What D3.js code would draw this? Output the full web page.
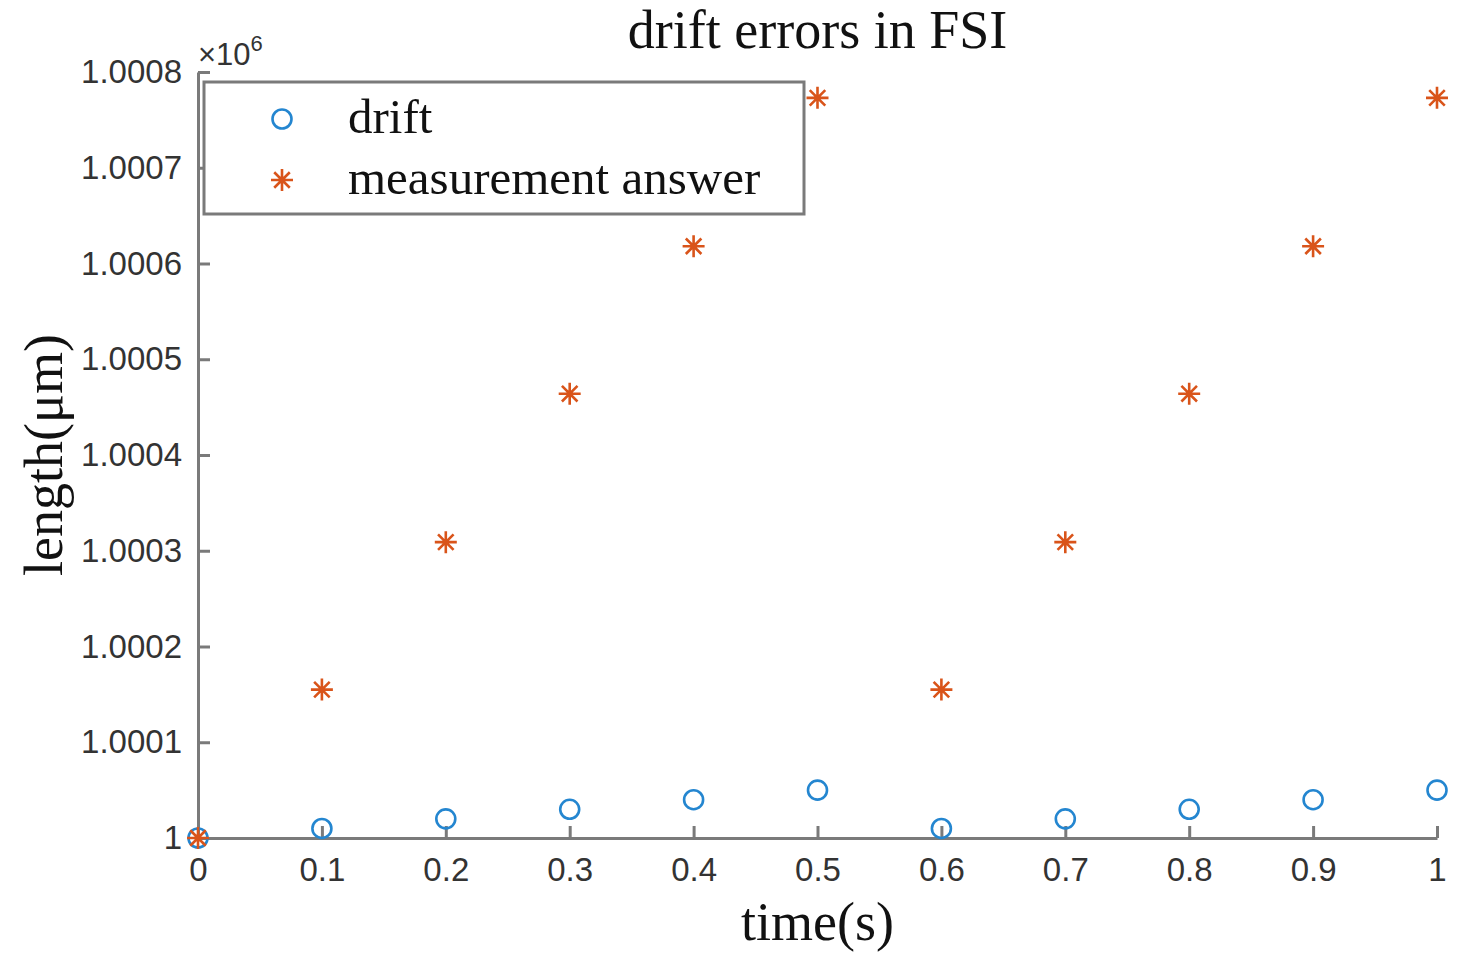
<!DOCTYPE html>
<html>
<head>
<meta charset="utf-8">
<script src="https://cdn.jsdelivr.net/npm/d3@7"></script>
<style>
  html, body { margin: 0; padding: 0; background: #fff; }
  svg { display: block; }
</style>
</head>
<body>
<svg id="chart" width="1461" height="959"></svg>
<script>
// ---- data ----
const times = [0, 0.1, 0.2, 0.3, 0.4, 0.5, 0.6, 0.7, 0.8, 0.9, 1.0];
const drift = [1000000, 1000010, 1000020, 1000030, 1000040, 1000050, 1000010, 1000020, 1000030, 1000040, 1000050];
const measurement = [1000000, 1000155, 1000309, 1000464, 1000618, 1000773, 1000155, 1000309, 1000464, 1000618, 1000773];
const xTickValues = [0, 0.1, 0.2, 0.3, 0.4, 0.5, 0.6, 0.7, 0.8, 0.9, 1];
const xTickLabels = ["0", "0.1", "0.2", "0.3", "0.4", "0.5", "0.6", "0.7", "0.8", "0.9", "1"];
const yTickValues = [1000000, 1000100, 1000200, 1000300, 1000400, 1000500, 1000600, 1000700, 1000800];
const yTickLabels = ["1", "1.0001", "1.0002", "1.0003", "1.0004", "1.0005", "1.0006", "1.0007", "1.0008"];
const seriesNames = ["drift", "measurement answer"];

// ---- layout ----
const svg = d3.select("#chart");
const pL = 198, pR = 1437, pT = 72, pB = 838;
const x = d3.scaleLinear().domain([0, 1]).range([pL, pR]);
const y = d3.scaleLinear().domain([1000000, 1000800]).range([pB, pT]);

const axisColor = "#7a7a7a";
const blue = "#2486d0";
const orange = "#d9541a";
const serif = "'Liberation Serif', 'Times New Roman', serif";
const sans = "'Liberation Sans', Arial, sans-serif";

// y axis
const yAxis = d3.axisLeft(y)
  .tickValues(yTickValues)
  .tickFormat((d, i) => yTickLabels[i])
  .tickSizeInner(-12).tickSizeOuter(0).tickPadding(16);
const gy = svg.append("g").attr("transform", `translate(${pL},0)`).call(yAxis);
gy.select(".domain").attr("stroke", axisColor).attr("stroke-width", 3);
gy.selectAll(".tick line").attr("stroke", axisColor).attr("stroke-width", 3);
gy.selectAll(".tick text").attr("fill", "#333").style("font-family", sans).style("font-size", "33px");

// x axis
const xAxis = d3.axisBottom(x)
  .tickValues(xTickValues)
  .tickFormat((d, i) => xTickLabels[i])
  .tickSizeInner(-12).tickSizeOuter(0).tickPadding(20);
const gx = svg.append("g").attr("transform", `translate(0,${pB})`).call(xAxis);
gx.select(".domain").attr("stroke", axisColor).attr("stroke-width", 3);
gx.selectAll(".tick line").attr("stroke", axisColor).attr("stroke-width", 3);
gx.selectAll(".tick text").attr("fill", "#333").style("font-family", sans).style("font-size", "33px");

// exponent label
const expT = svg.append("text").attr("x", 198).attr("y", 65)
  .style("font-family", sans).style("font-size", "31px").attr("fill", "#333");
expT.append("tspan").text("\u00d710");
expT.append("tspan").attr("dy", -14).style("font-size", "22px").text("6");

// title & labels
svg.append("text").attr("x", (pL + pR) / 2).attr("y", 48).attr("text-anchor", "middle")
  .style("font-family", serif).style("font-size", "54px").attr("fill", "#111").text("drift errors in FSI");
svg.append("text").attr("x", (pL + pR) / 2).attr("y", 940).attr("text-anchor", "middle")
  .style("font-family", serif).style("font-size", "54px").attr("fill", "#111").text("time(s)");
svg.append("text").attr("transform", `translate(62,${(pT + pB) / 2}) rotate(-90)`).attr("text-anchor", "middle")
  .style("font-family", serif).style("font-size", "54px").attr("fill", "#111").text("length(\u03bcm)");

// markers
function asterisk(g, cx, cy, r) {
  const d = r * Math.SQRT1_2;
  const p = `M${cx - r},${cy}L${cx + r},${cy}M${cx},${cy - r}L${cx},${cy + r}` +
            `M${cx - d},${cy - d}L${cx + d},${cy + d}M${cx - d},${cy + d}L${cx + d},${cy - d}`;
  g.append("path").attr("d", p).attr("stroke", orange).attr("stroke-width", 2.6).attr("fill", "none");
}

const gd = svg.append("g");
gd.selectAll("circle").data(times).join("circle")
  .attr("cx", (d) => x(d)).attr("cy", (d, i) => y(drift[i])).attr("r", 9.5)
  .attr("fill", "none").attr("stroke", blue).attr("stroke-width", 2.6);

const gm = svg.append("g");
times.forEach((t, i) => asterisk(gm, x(t), y(measurement[i]), 11));

// legend
const lg = svg.append("g");
lg.append("rect").attr("x", 204).attr("y", 82).attr("width", 600).attr("height", 132)
  .attr("fill", "#fff").attr("stroke", axisColor).attr("stroke-width", 3);
lg.append("circle").attr("cx", 282).attr("cy", 119).attr("r", 9.5)
  .attr("fill", "none").attr("stroke", blue).attr("stroke-width", 2.6);
asterisk(lg, 282, 180, 11);
lg.append("text").attr("x", 348).attr("y", 133).style("font-family", serif).style("font-size", "49px")
  .attr("fill", "#111").text(seriesNames[0]);
lg.append("text").attr("x", 348).attr("y", 194).style("font-family", serif).style("font-size", "49px")
  .attr("fill", "#111").text(seriesNames[1]);
</script>
</body>
</html>
